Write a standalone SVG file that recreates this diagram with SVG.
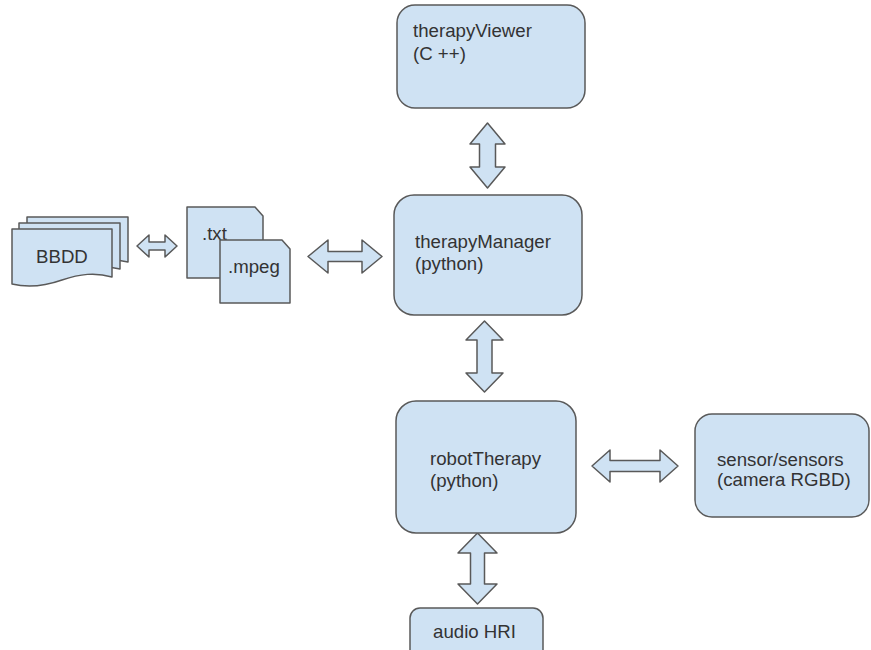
<svg xmlns="http://www.w3.org/2000/svg" width="871" height="650" viewBox="0 0 871 650">
<style>
.s{fill:#cfe2f3;stroke:#595959;stroke-width:1.5;stroke-linejoin:round}
.t{font-family:"Liberation Sans",Arial,sans-serif;font-size:18.67px;fill:#333}
</style>
<rect width="871" height="650" fill="#fff"/>
<g id="connectors">
<polygon class="s" points="487.5,123 505,144 495.5,144 495.5,167 505,167 487.5,188 470,167 479.5,167 479.5,144 470,144"/>
<polygon class="s" points="484.5,321 503,340 492,340 492,373 503,373 484.5,392 466,373 477,373 477,340 466,340"/>
<polygon class="s" points="477.5,533 497,553 484.5,553 484.5,584 497,584 477.5,604 458,584 470.5,584 470.5,553 458,553"/>
<polygon class="s" points="308,256.5 328,240 328,251.5 362,251.5 362,240 382,256.5 362,273 362,261.5 328,261.5 328,273"/>
<polygon class="s" points="592,466 610,450 610,460.5 660,460.5 660,450 678,466 660,482 660,471.5 610,471.5 610,482"/>
<polygon class="s" points="137,246 149,235 149,242 165,242 165,235 177,246 165,257 165,250 149,250 149,257"/>
</g>
<g id="therapyViewer">
<rect class="s" x="397" y="5" width="188" height="103" rx="18"/>
<text class="t" x="413" y="37">therapyViewer</text>
<text class="t" x="413" y="60">(C ++)</text>
</g>
<g id="therapyManager">
<rect class="s" x="394" y="195" width="188" height="120" rx="20"/>
<text class="t" x="415" y="248">therapyManager</text>
<text class="t" x="415" y="270">(python)</text>
</g>
<g id="robotTherapy">
<rect class="s" x="396" y="401" width="180" height="132" rx="20"/>
<text class="t" x="430" y="465">robotTherapy</text>
<text class="t" x="430" y="487">(python)</text>
</g>
<g id="sensors">
<rect class="s" x="695" y="414" width="174" height="103" rx="17"/>
<text class="t" x="717" y="466">sensor/sensors</text>
<text class="t" x="717" y="486">(camera RGBD)</text>
</g>
<g id="audioHRI">
<rect class="s" x="410" y="608" width="133" height="52" rx="10"/>
<text class="t" x="433" y="638">audio HRI</text>
</g>
<g id="BBDD">
<path class="s" d="M27,217 H128 V262 C112,258 98,260 84,264 C66,269 46,271 27,268 Z"/>
<path class="s" d="M19,223 H120 V269 C104,265 90,267 76,271 C58,276 38,278 19,275 Z"/>
<path class="s" d="M12,229 H112 V277 C95,272 80,274 62,280 C45,286 28,288 12,284 Z"/>
<text class="t" x="36" y="263">BBDD</text>
</g>
<g id="files">
<path class="s" d="M187,207 H255 L263,216 V278 H187 Z"/>
<text class="t" x="202" y="240">.txt</text>
<path class="s" d="M220,240 H282 L290,249 V303 H220 Z"/>
<text class="t" x="228" y="273">.mpeg</text>
</g>
</svg>
